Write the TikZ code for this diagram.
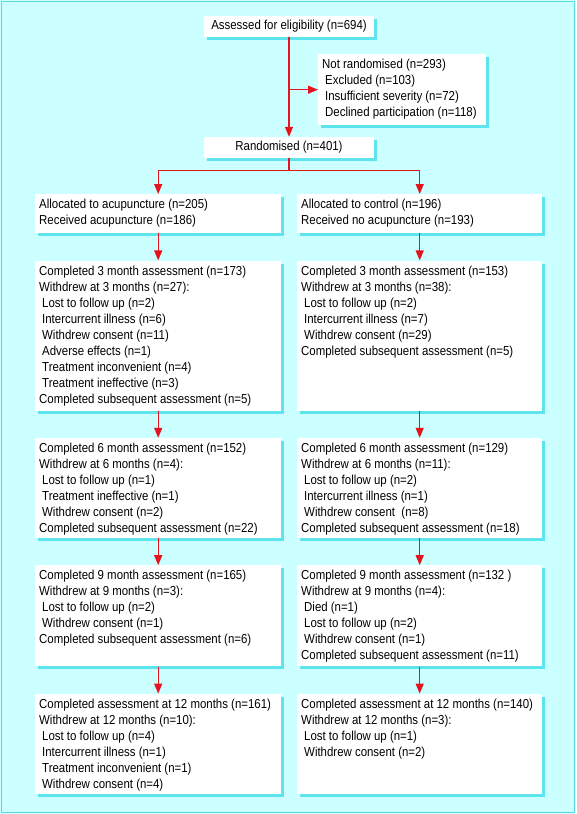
\documentclass[tikz,border=0pt]{standalone}
\usepackage{fontspec}
\setmainfont{Liberation Sans}[FakeStretch=0.88]
\usetikzlibrary{positioning,arrows.meta,shadows}

\definecolor{bgcyan}{HTML}{CCFFFF}
\definecolor{framecyan}{HTML}{5ED8E0}
\definecolor{shadecyan}{HTML}{5EE4EC}
\definecolor{flowred}{HTML}{E3141E}

\newcommand{\sub}{\hspace*{3pt}}
\newcommand{\boxlines}[3]{\begin{minipage}[t][#2][t]{#1}#3\end{minipage}}

\tikzset{
  box/.style={fill=white, inner xsep=4pt, inner ysep=5pt,
    font=\fontsize{13pt}{16pt}\selectfont,
    drop shadow={shadow xshift=3pt, shadow yshift=-3pt, fill=shadecyan, opacity=1}},
  flow/.style={draw=flowred, line width=1.3pt, -{Triangle[length=10pt,width=8pt]}},
}

\begin{document}
\begin{tikzpicture}[x=1pt, y=-1pt, node distance=27pt]
\fill[bgcyan] (0,0) rectangle (576,814);
\draw[framecyan, line width=1.2pt] (1.5,1.5) rectangle (574.5,812.5);
\useasboundingbox (0,0) rectangle (576,814);

% top of the chart
\node[box, minimum width=170pt, minimum height=21pt, inner ysep=0pt] (assess) at (289,26.5) {Assessed for eligibility (n=694)};
\node[box, anchor=north west] (notrand) at (318,54) {\boxlines{160pt}{61pt}{Not randomised (n=293)\\
\sub Excluded (n=103)\\
\sub Insufficient severity (n=72)\\
\sub Declined participation (n=118)}};
\node[box, minimum width=170pt, minimum height=21pt, inner ysep=0pt] (rand) at (289,147.5) {Randomised (n=401)};

% acupuncture arm
\node[box, anchor=north west] (acu1) at (35,194) {\boxlines{238pt}{29pt}{Allocated to acupuncture (n=205)\\
Received acupuncture (n=186)}};
\node[box, below=of acu1] (acu3) {\boxlines{238pt}{140pt}{Completed 3 month assessment (n=173)\\
Withdrew at 3 months (n=27):\\
\sub Lost to follow up (n=2)\\
\sub Intercurrent illness (n=6)\\
\sub Withdrew consent (n=11)\\
\sub Adverse effects (n=1)\\
\sub Treatment inconvenient (n=4)\\
\sub Treatment ineffective (n=3)\\
Completed subsequent assessment (n=5)}};
\node[box, below=of acu3] (acu6) {\boxlines{238pt}{90pt}{Completed 6 month assessment (n=152)\\
Withdrew at 6 months (n=4):\\
\sub Lost to follow up (n=1)\\
\sub Treatment ineffective (n=1)\\
\sub Withdrew consent (n=2)\\
Completed subsequent assessment (n=22)}};
\node[box, below=of acu6] (acu9) {\boxlines{238pt}{91pt}{Completed 9 month assessment (n=165)\\
Withdrew at 9 months (n=3):\\
\sub Lost to follow up (n=2)\\
\sub Withdrew consent (n=1)\\
Completed subsequent assessment (n=6)}};
\node[box, below=of acu9] (acu12) {\boxlines{238pt}{90pt}{Completed assessment at 12 months (n=161)\\
Withdrew at 12 months (n=10):\\
\sub Lost to follow up (n=4)\\
\sub Intercurrent illness (n=1)\\
\sub Treatment inconvenient (n=1)\\
\sub Withdrew consent (n=4)}};

% control arm
\node[box, anchor=north west] (ctl1) at (297,194) {\boxlines{237pt}{29pt}{Allocated to control (n=196)\\
Received no acupuncture (n=193)}};
\node[box, below=of ctl1] (ctl3) {\boxlines{237pt}{140pt}{Completed 3 month assessment (n=153)\\
Withdrew at 3 months (n=38):\\
\sub Lost to follow up (n=2)\\
\sub Intercurrent illness (n=7)\\
\sub Withdrew consent (n=29)\\
Completed subsequent assessment (n=5)}};
\node[box, below=of ctl3] (ctl6) {\boxlines{237pt}{90pt}{Completed 6 month assessment (n=129)\\
Withdrew at 6 months (n=11):\\
\sub Lost to follow up (n=2)\\
\sub Intercurrent illness (n=1)\\
\sub Withdrew consent\ \ (n=8)\\
Completed subsequent assessment (n=18)}};
\node[box, below=of ctl6] (ctl9) {\boxlines{237pt}{91pt}{Completed 9 month assessment (n=132 )\\
Withdrew at 9 months (n=4):\\
\sub Died (n=1)\\
\sub Lost to follow up (n=2)\\
\sub Withdrew consent (n=1)\\
Completed subsequent assessment (n=11)}};
\node[box, below=of ctl9] (ctl12) {\boxlines{237pt}{90pt}{Completed assessment at 12 months (n=140)\\
Withdrew at 12 months (n=3):\\
\sub Lost to follow up (n=1)\\
\sub Withdrew consent (n=2)}};

% connectors
\draw[flow] (assess) -- (rand);
\draw[flow] (assess.south |- notrand.west) -- (notrand.west);
\draw[flow] (rand.south) -- ++(0,12) -| (acu1.north);
\draw[flow] (rand.south) -- ++(0,12) -| (ctl1.north);
\draw[flow] (acu1) -- (acu3);
\draw[flow] (acu3) -- (acu6);
\draw[flow] (acu6) -- (acu9);
\draw[flow] (acu9) -- (acu12);
\draw[flow] (ctl1) -- (ctl3);
\draw[flow] (ctl3) -- (ctl6);
\draw[flow] (ctl6) -- (ctl9);
\draw[flow] (ctl9) -- (ctl12);
\end{tikzpicture}
\end{document}
